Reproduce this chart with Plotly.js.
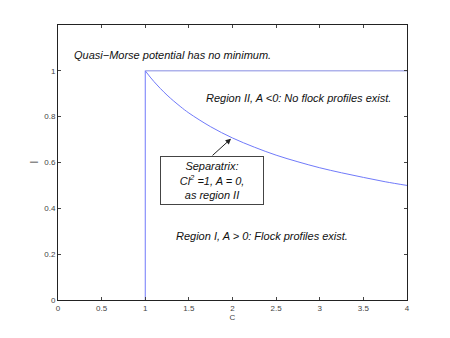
<!DOCTYPE html>
<html>
<head>
<meta charset="utf-8">
<script src="https://cdn.plot.ly/plotly-3.0.1.min.js"></script>
<style>
  html, body { margin: 0; padding: 0; background: #fff; }
  #chart { width: 450px; height: 338px; }
</style>
</head>
<body>
<div id="chart"></div>
<script>
// separatrix C*l^2 = 1
const sepC = [1, 1.1, 1.25, 1.4, 1.5, 1.75, 2, 2.25, 2.5, 2.75, 3, 3.25, 3.5, 3.75, 4];
const sepL = [1, 0.953, 0.894, 0.845, 0.816, 0.756, 0.707, 0.667, 0.632, 0.603, 0.577, 0.555, 0.535, 0.516, 0.5];

// border of region II: vertical at C = 1, horizontal at l = 1
const wallC = [1, 1];
const wallL = [0, 1];
const capC = [1, 4];
const capL = [1, 1];

const xTicks = [0, 0.5, 1, 1.5, 2, 2.5, 3, 3.5, 4];
const yTicks = [0, 0.2, 0.4, 0.6, 0.8, 1];

const lineColor = 'rgb(112,122,250)';
const font = 'Liberation Sans, Arial, sans-serif';

const traces = [
  { x: wallC, y: wallL, mode: 'lines', line: { color: lineColor, width: 1 }, hoverinfo: 'skip' },
  { x: capC, y: capL, mode: 'lines', line: { color: 'rgb(135,140,225)', width: 1 }, hoverinfo: 'skip' },
  { x: sepC, y: sepL, mode: 'lines', line: { color: lineColor, width: 1, shape: 'spline' }, hoverinfo: 'skip' }
];

const axisStyle = {
  showline: true,
  linecolor: '#222',
  linewidth: 1,
  mirror: 'ticks',
  ticks: 'inside',
  ticklen: 3,
  tickcolor: '#444',
  showgrid: false,
  zeroline: false,
  tickfont: { family: font, size: 8, color: '#444' }
};

const layout = {
  width: 450,
  height: 338,
  margin: { l: 58, r: 43, t: 25, b: 38 },
  paper_bgcolor: '#fff',
  plot_bgcolor: '#fff',
  showlegend: false,
  xaxis: Object.assign({}, axisStyle, {
    range: [0, 4],
    tickvals: xTicks,
    ticktext: xTicks.map(String),
    title: { text: 'C', font: { family: font, size: 8, color: '#444' }, standoff: 2 }
  }),
  yaxis: Object.assign({}, axisStyle, {
    range: [0, 1.2],
    tickvals: yTicks,
    ticktext: yTicks.map(String)
  }),
  annotations: [
    {
      // y axis label, MATLAB draws it turned on its side
      x: -0.088, y: 0.5, xref: 'paper', yref: 'paper',
      text: 'l', textangle: -90,
      showarrow: false, font: { family: font, size: 10, color: '#444' }
    },
    {
      x: 0.16, y: 1.067, xref: 'x', yref: 'y', xanchor: 'left',
      text: '<i>Quasi\u2212Morse potential has no minimum.</i>',
      showarrow: false, font: { family: font, size: 11, color: '#111' }
    },
    {
      x: 1.67, y: 0.883, xref: 'x', yref: 'y', xanchor: 'left',
      text: '<i>Region II, A &lt;0: No flock profiles exist.</i>',
      showarrow: false, font: { family: font, size: 11, color: '#111' }
    },
    {
      x: 2.34, y: 0.28, xref: 'x', yref: 'y',
      text: '<i>Region I, A &gt; 0: Flock profiles exist.</i>',
      showarrow: false, font: { family: font, size: 11, color: '#111' }
    },
    {
      x: 1.765, y: 0.522, xref: 'x', yref: 'y',
      text: '<i>Separatrix:<br>Cl<sup>2</sup> =1, A = 0,<br>as region II</i>',
      showarrow: false, font: { family: font, size: 11, color: '#111' },
      width: 96, height: 41,
      bordercolor: '#444', borderwidth: 1, borderpad: 3, bgcolor: '#fff'
    },
    {
      x: 1.983, y: 0.704, xref: 'x', yref: 'y',
      ax: 1.754, ay: 0.625, axref: 'x', ayref: 'y',
      text: '', showarrow: true, arrowhead: 2, arrowsize: 1.1, arrowwidth: 1, arrowcolor: '#222'
    }
  ]
};

Plotly.newPlot('chart', traces, layout, { staticPlot: true, displayModeBar: false });
</script>
</body>
</html>
